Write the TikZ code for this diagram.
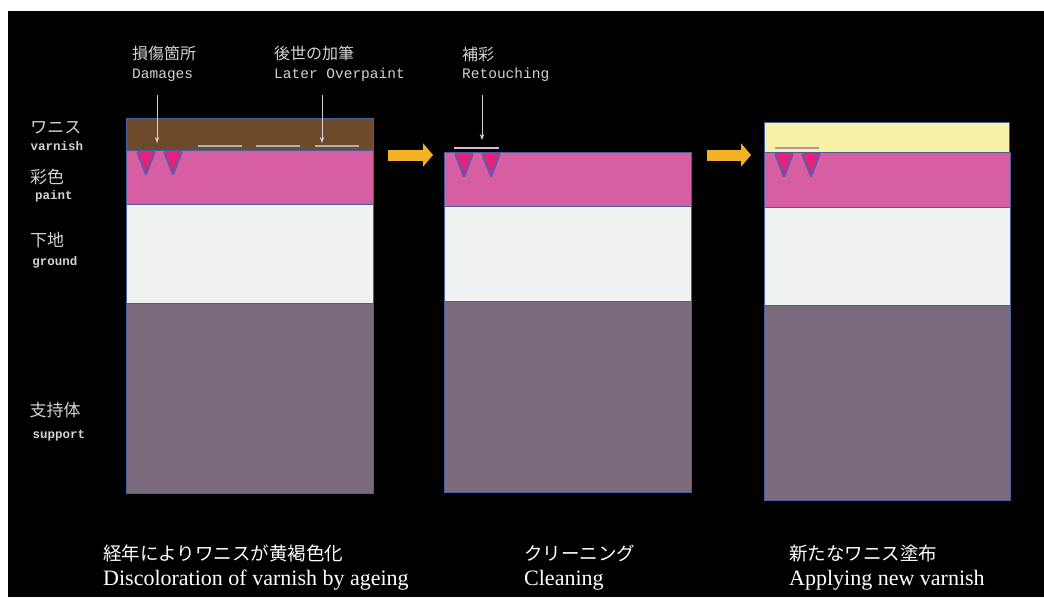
\documentclass[tikz,border=0pt]{standalone}
\usepackage{fontspec}
\newfontfamily\jp{Noto Sans CJK JP}
\newfontfamily\mono{Liberation Mono}
\newfontfamily\capfont{Liberation Serif}
\usetikzlibrary{arrows.meta}
\definecolor{bgblack}{HTML}{000000}
\definecolor{edgeblue}{HTML}{4A5FA0}
\definecolor{varnbrown}{HTML}{6C4A2A}
\definecolor{paintpink}{HTML}{D85EA2}
\definecolor{groundwhite}{HTML}{F0F1F1}
\definecolor{supportgray}{HTML}{7A6A7C}
\definecolor{newvarn}{HTML}{F8F2A6}
\definecolor{arroworange}{HTML}{F2B224}
\definecolor{trifill}{HTML}{E8207A}
\definecolor{triedge}{HTML}{7650A8}
\definecolor{labelgray}{HTML}{D8D0D4}
\definecolor{overline}{HTML}{A2B6BA}
\definecolor{retouch}{HTML}{E2B4E2}
\definecolor{retouchdim}{HTML}{B490B4}
\tikzset{
  layer/.style={draw=edgeblue, line width=0.9pt},
  toplabel/.style={text=labelgray, anchor=west, inner sep=0pt},
  jpsmall/.style={font=\jp\fontsize{16}{16}\selectfont},
  monosmall/.style={font=\mono\fontsize{14.5}{14.5}\selectfont},
  sidejp/.style={text=labelgray, inner sep=0pt, font=\jp\fontsize{17}{17}\selectfont},
  sidelat/.style={text=labelgray, inner sep=0pt, font=\mono\bfseries\fontsize{12.5}{12.5}\selectfont},
  capjp/.style={text=white, anchor=west, inner sep=0pt, font=\jp\fontsize{18.5}{18.5}\selectfont},
  caplat/.style={text=white, anchor=west, inner sep=0pt, font=\capfont\fontsize{22}{22}\selectfont},
  pointer/.style={draw=labelgray, line width=0.9pt, -{Stealth[length=6pt,width=4.5pt]}},
  bigarrow/.style={draw=arroworange, line width=11pt, -{Triangle[length=10pt,width=23pt]}},
  tri/.style={fill=trifill},
  triv/.style={draw=triedge, line width=2.4pt, line join=round},
}
\newcommand{\damages}[2]{% #1 = panel left x, #2 = top y
  \fill[tri] (#1+11,#2+1) -- (#1+29,#2+1) -- (#1+20,#2+24) -- cycle;
  \draw[triv] (#1+11.5,#2+2) -- (#1+20,#2+24) -- (#1+28.5,#2+2);
  \fill[tri] (#1+38,#2+1) -- (#1+56,#2+1) -- (#1+47,#2+24) -- cycle;
  \draw[triv] (#1+38.5,#2+2) -- (#1+47,#2+24) -- (#1+55.5,#2+2);
}
\begin{document}
\begin{tikzpicture}[x=1pt,y=-1pt]
\useasboundingbox (0,0) rectangle (1044,597);
\fill[white] (0,0) rectangle (1044,597);
\fill[bgblack] (8,11) rectangle (1044,597);

% ---------- Panel 1 ----------
\draw[layer, fill=supportgray] (126,303) rectangle (373,493);
\draw[layer, fill=groundwhite] (126,204) rectangle (373,303);
\draw[layer, fill=paintpink] (126,150) rectangle (373,204);
\draw[layer, fill=varnbrown] (126,118) rectangle (373,150);
\damages{126}{150}
\draw[overline, line width=2.2pt] (198,146) -- (242,146);
\draw[overline, line width=2.2pt] (256,146) -- (300,146);
\draw[overline, line width=2.2pt] (315,146) -- (359,146);

% ---------- Panel 2 ----------
\draw[layer, fill=supportgray] (444,301) rectangle (691,492);
\draw[layer, fill=groundwhite] (444,206) rectangle (691,301);
\draw[layer, fill=paintpink] (444,152) rectangle (691,206);
\damages{444}{152}
\draw[retouch, line width=2.2pt] (454,148) -- (499,148);

% ---------- Panel 3 ----------
\draw[layer, fill=supportgray] (764,305) rectangle (1010,500);
\draw[layer, fill=groundwhite] (764,207) rectangle (1010,305);
\draw[layer, fill=paintpink] (764,152) rectangle (1010,207);
\draw[layer, fill=newvarn] (764,122) rectangle (1009,152);
\damages{764}{152}
\draw[retouchdim, line width=2.2pt] (775,148) -- (819,148);

% ---------- Big arrows ----------
\coordinate (a1s) at (388,155);
\coordinate (a1e) at (433,155);
\coordinate (a2s) at (707,155);
\coordinate (a2e) at (751,155);
\draw[bigarrow] (a1s) -- (a1e);
\draw[bigarrow] (a2s) -- (a2e);

% ---------- Top labels ----------
\node[toplabel, jpsmall] (dmgjp) at (132,53) {損傷箇所};
\node[toplabel, monosmall] (dmgen) at (132,75) {Damages};
\node[toplabel, jpsmall] (ovjp) at (274,53) {後世の加筆};
\node[toplabel, monosmall] (oven) at (274,75) {Later Overpaint};
\node[toplabel, jpsmall] (rtjp) at (462,54) {補彩};
\node[toplabel, monosmall] (rten) at (462,75) {Retouching};

\coordinate (p1s) at (157,95);
\coordinate (p1e) at (157,143);
\coordinate (p2s) at (322,95);
\coordinate (p2e) at (322,143);
\coordinate (p3s) at (482,95);
\coordinate (p3e) at (482,140);
\draw[pointer] (p1s) -- (p1e);
\draw[pointer] (p2s) -- (p2e);
\draw[pointer] (p3s) -- (p3e);

% ---------- Side labels ----------
\node[sidejp] (vjp) at (56,128) {ワニス};
\node[sidelat] (ven) at (57,146) {varnish};
\node[sidejp] (pjp) at (47,177) {彩色};
\node[sidelat] (pen) at (54,196) {paint};
\node[sidejp] (gjp) at (47,240) {下地};
\node[sidelat] (gen) at (55,262) {ground};
\node[sidejp] (sjp) at (55,410) {支持体};
\node[sidelat] (sen) at (59,436) {support};

% ---------- Captions ----------
\node[capjp] (c1jp) at (103,553) {経年によりワニスが黄褐色化};
\node[caplat] (c1en) at (103,580) {Discoloration of varnish by ageing};
\node[capjp] (c2jp) at (524,553) {クリーニング};
\node[caplat] (c2en) at (524,580) {Cleaning};
\node[capjp] (c3jp) at (789,553) {新たなワニス塗布};
\node[caplat] (c3en) at (789,580) {Applying new varnish};
\end{tikzpicture}
\end{document}
